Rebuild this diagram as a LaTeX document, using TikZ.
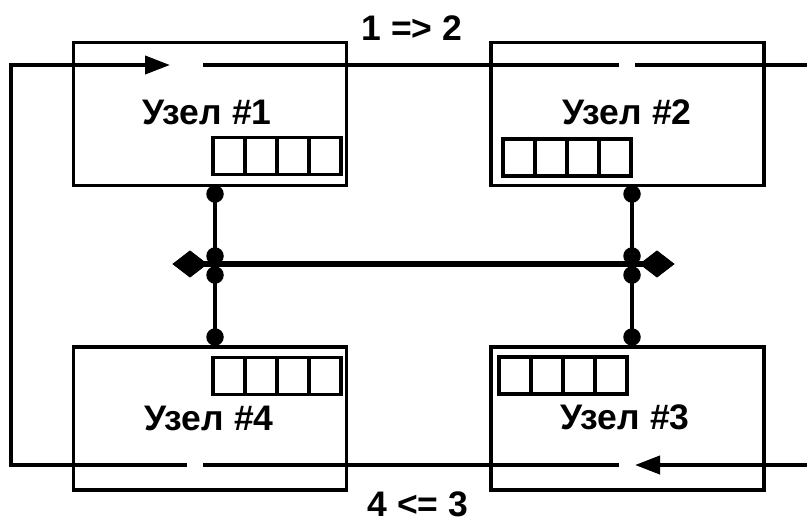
\documentclass[tikz,border=0pt]{standalone}
\usepackage{fontspec}
\setmainfont{Liberation Sans}
\usetikzlibrary{arrows.meta,shapes.geometric}
\begin{document}
\begin{tikzpicture}[x=1pt,y=-1pt,
  box/.style={draw,line width=3.5pt,minimum width=273pt,minimum height=143pt,inner sep=0pt},
  cell/.style={draw,line width=3.8pt,minimum width=32pt,minimum height=37pt,inner sep=0pt},
  lbl/.style={font=\fontsize{35.5}{40}\selectfont\bfseries,inner sep=0pt},
  ring/.style={line width=4pt},
  tip/.style={-{Triangle[length=25pt,width=18pt]}},
  dot/.style={circle,fill,inner sep=0pt,minimum size=17.5pt},
  dia/.style={diamond,fill,inner sep=0pt,minimum width=35pt,minimum height=27pt},
  bus/.style={line width=6pt},
  wire/.style={line width=4pt}]
\useasboundingbox (0,0) rectangle (807,523);
% boxes
\node[box] (n1) at (210,114) {};
\node[box] (n2) at (627.5,114) {};
\node[box] (n4) at (210,418.5) {};
\node[box] (n3) at (627.5,418.5) {};
\node[lbl] (t1) at (207,112) {Узел \#1};
\node[lbl] (t2) at (627,112) {Узел \#2};
\node[lbl] (t4) at (209,418) {Узел \#4};
\node[lbl] (t3) at (625,417) {Узел \#3};
% registers
\foreach \i in {0,...,3} {
  \node[cell] (r1-\i) at (229+32*\i,156) {};
  \node[cell] (r2-\i) at (519+32*\i,157.5) {};
  \node[cell] (r4-\i) at (229+32*\i,376) {};
  \node[cell] (r3-\i) at (515+32*\i,375.5) {};
}
% ring
\coordinate (tl) at (11,65);
\coordinate (tr) at (807,65);
\coordinate (bl) at (11,465);
\coordinate (br) at (807,465);
\coordinate (a1) at (170,65);
\coordinate (g1) at (203,65);
\coordinate (g2s) at (619,65);
\coordinate (g2e) at (635,65);
\coordinate (a3) at (635,465);
\coordinate (g3) at (619,465);
\coordinate (g4e) at (203,465);
\coordinate (g4s) at (187,465);
\draw[ring,tip] (g4s) -- (bl) -- (tl) -- (a1);
\draw[ring] (g1) -- (g2s);
\draw[ring] (g2e) -- (tr);
\draw[ring,tip] (br) -- (a3);
\draw[ring] (g3) -- (g4e);
\node[lbl] (l12) at (412,28) {1 => 2};
\node[lbl] (l43) at (418,504.5) {4 <= 3};
% bus
\node[dia] (dl) at (190,264) {};
\node[dia] (dr) at (657,264) {};
\draw[bus] (dl.center) -- (dr.center);
\node[dia] at (dl) {};
\node[dia] at (dr) {};
\draw[wire] (215,194) -- (215,337);
\draw[wire] (632,194) -- (632,337);
\foreach \s/\x in {L/215,R/632} {
  \node[dot] (p\s1) at (\x,194) {};
  \node[dot] (p\s2) at (\x,256) {};
  \node[dot] (p\s3) at (\x,275) {};
  \node[dot] (p\s4) at (\x,337) {};
}
\end{tikzpicture}
\end{document}
